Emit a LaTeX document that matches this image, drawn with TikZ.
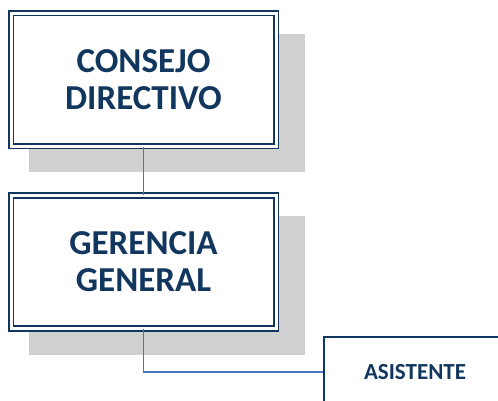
\documentclass[tikz,border=0pt]{standalone}
\usepackage{fontspec}
\setmainfont{Carlito}
\usepackage{tikz}
\usetikzlibrary{shadows}

\definecolor{azulosc}{HTML}{12375F}
\definecolor{azullin}{HTML}{4A76C0}
\definecolor{sombra}{HTML}{D0D0D0}

\tikzset{
  cargo/.style={draw=azulosc, double=white, double distance=3pt, line width=1.7pt,
    fill=white, minimum width=265pt, minimum height=133pt, align=center,
    text=azulosc, font=\fontsize{35}{37}\selectfont\bfseries,
    general shadow={fill=sombra, shadow scale=1.04, shadow xshift=22.5pt, shadow yshift=-22.5pt}},
  apoyo/.style={draw=azulosc, line width=2pt, fill=white, minimum width=182pt,
    minimum height=70pt, text=azulosc, font=\fontsize{23}{25}\selectfont\bfseries},
  enlace/.style={draw=azullin, line width=1.2pt}
}

\begin{document}
\begin{tikzpicture}[x=1pt,y=-1pt]
\useasboundingbox (0,0) rectangle (498,400);

\node[cargo]  (consejo)   at (143.5,79.5) {CONSEJO\\DIRECTIVO};
\node[cargo]  (gerencia)  at (143.5,262)  {GERENCIA\\GENERAL};
\node[apoyo]  (asistente) at (415,372)    {ASISTENTE};

\draw[enlace] (consejo.south) -- (gerencia.north);
\draw[enlace] (gerencia.south) |- (asistente.west);
\end{tikzpicture}
\end{document}
